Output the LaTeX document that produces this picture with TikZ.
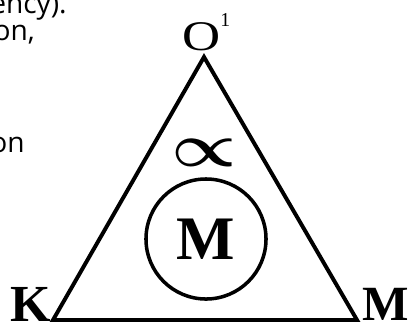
\documentclass[tikz,border=0pt]{standalone}
\usepackage{amsmath,amssymb}
\usepackage{fontspec}
\setmainfont{Liberation Serif}
\newfontfamily\pagefont{Open Sans}
\usetikzlibrary{positioning}

\begin{document}
\begin{tikzpicture}[
    x=0.025cm, y=-0.025cm,
    corner/.style={inner sep=0pt, font=\fontsize{37}{37}\selectfont\bfseries},
    pagetext/.style={inner sep=0pt, anchor=base east, font=\pagefont\fontsize{20}{24}\selectfont},
    motor/.style={circle, draw, line width=2.5pt, minimum size=3.0cm, inner sep=0pt, font=\fontsize{44}{44}\selectfont\bfseries},
    side/.style={line width=2.8pt, line join=miter}
]
    \useasboundingbox (0,0) rectangle (408,325);

    % cut-off text of the page beside the figure
    \node[pagetext] (line1) at (67,13) {ency).};
    \node[pagetext] (line2) at (35,40) {on,};
    \node[pagetext] (line3) at (25,152) {on};

    % triangle corners
    \coordinate (top) at (204,57);
    \coordinate (left) at (53,320);
    \coordinate (right) at (357,320);
    \draw[side] (top) -- (left) -- (right) -- cycle;

    \node[inner sep=0pt, anchor=base west, font=\fontsize{30}{30}\selectfont] (otop) at (182,50)
        {\scalebox{1.25}[1]{O}\raisebox{17pt}{\fontsize{14}{14}\selectfont 1}};
    \node[corner, anchor=base east] (k) at (51,321) {K};
    \node[corner, anchor=base west, font=\fontsize{35}{35}\selectfont\bfseries] (m) at (362,320) {M};

    \node[inner sep=0pt] (prop) at (204,153) {\resizebox{1.63cm}{0.68cm}{$\boldsymbol{\propto}$}};
    \node[motor] (circ) at (206,239) {M};
\end{tikzpicture}
\end{document}
